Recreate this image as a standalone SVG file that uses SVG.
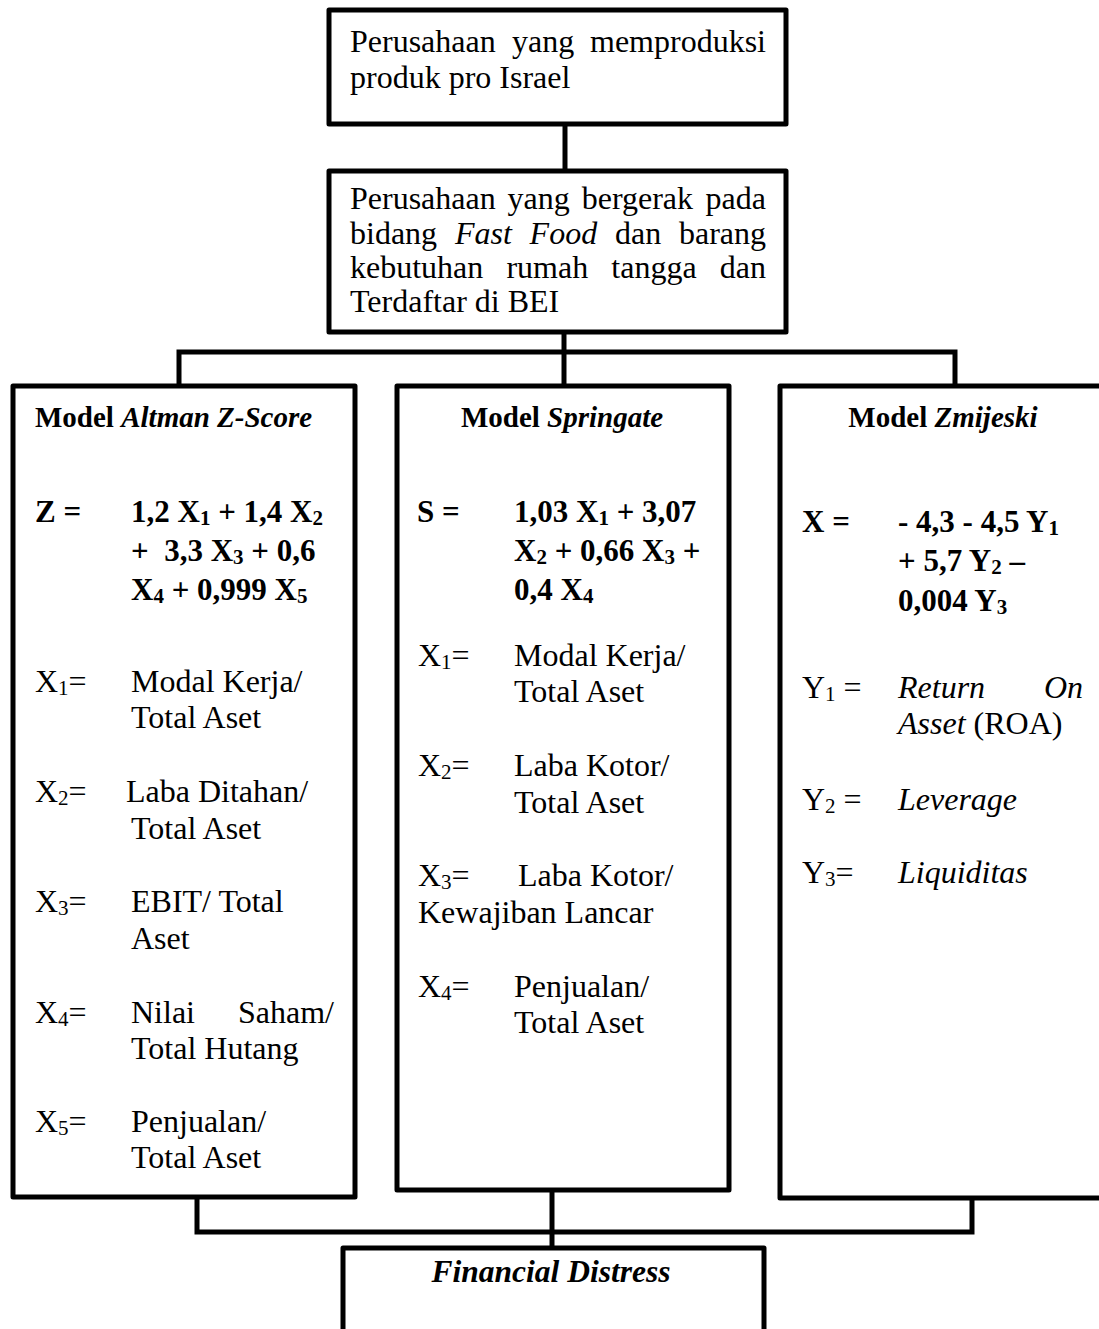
<svg xmlns="http://www.w3.org/2000/svg" width="1099" height="1329" viewBox="0 0 1099 1329">
<style>
.box{fill:#fff;stroke:#000;stroke-width:5;stroke-linejoin:round}
.ln{fill:none;stroke:#000;stroke-width:5;stroke-linecap:butt}
text{font-family:"Liberation Serif","Times New Roman",serif;font-size:32px;fill:#000}
.b{font-weight:bold;font-size:31px}
.h{font-weight:bold;font-size:29px}
.fd{font-weight:bold;font-style:italic;font-size:31.5px}
.i{font-style:italic}
.e{text-anchor:end}
.m{text-anchor:middle}
.s{font-size:21px}
</style>
<rect width="1099" height="1329" fill="#fff"/>
<g id="connectors">
<line class="ln" x1="565" y1="124" x2="565" y2="171"/>
<line class="ln" x1="564" y1="332" x2="564" y2="386"/>
<polyline class="ln" points="179,386 179,352 955,352 955,386"/>
<polyline class="ln" points="197,1197 197,1232 972,1232 972,1198"/>
<line class="ln" x1="552" y1="1188" x2="552" y2="1248"/>
</g>
<g id="node-perusahaan-pro-israel">
<rect class="box" x="329" y="10" width="457" height="114"/>
<text x="350" y="52">Perusahaan</text><text x="512" y="52">yang</text><text class="e" x="766" y="52">memproduksi</text>
<text x="350" y="88">produk pro Israel</text>
</g>
<g id="node-perusahaan-fast-food">
<rect class="box" x="329" y="171" width="457" height="161"/>
<text x="350" y="209">Perusahaan</text><text x="507.6" y="209">yang</text><text x="581.7" y="209">bergerak</text><text class="e" x="766" y="209">pada</text>
<text x="350" y="244">bidang</text><text class="i" x="454.9" y="244">Fast</text><text class="i" x="529.6" y="244">Food</text><text x="615" y="244">dan</text><text class="e" x="766" y="244">barang</text>
<text x="350" y="278">kebutuhan</text><text x="506.4" y="278">rumah</text><text x="611.3" y="278">tangga</text><text class="e" x="766" y="278">dan</text>
<text x="350" y="312">Terdaftar di BEI</text>
</g>
<g id="node-altman">
<rect class="box" x="13" y="386" width="342" height="811"/>
<text class="h" x="35" y="427">Model <tspan class="i">Altman Z-Score</tspan></text>
<text class="b" x="35" y="522">Z =</text>
<text class="b" x="131" y="522">1,2 X<tspan class="s" dy="3">1</tspan><tspan dy="-3"> + 1,4 X</tspan><tspan class="s" dy="3">2</tspan></text>
<text class="b" x="131" y="561" xml:space="preserve">+  3,3 X<tspan class="s" dy="3">3</tspan><tspan dy="-3"> + 0,6</tspan></text>
<text class="b" x="131" y="600">X<tspan class="s" dy="3">4</tspan><tspan dy="-3"> + 0,999 X</tspan><tspan class="s" dy="3">5</tspan></text>
<text x="35" y="692">X<tspan class="s" dy="3">1</tspan><tspan dy="-3">=</tspan></text>
<text x="131" y="692">Modal Kerja/</text>
<text x="131" y="728">Total Aset</text>
<text x="35" y="802">X<tspan class="s" dy="3">2</tspan><tspan dy="-3">=</tspan></text>
<text x="126" y="802">Laba Ditahan/</text>
<text x="131" y="839">Total Aset</text>
<text x="35" y="912">X<tspan class="s" dy="3">3</tspan><tspan dy="-3">=</tspan></text>
<text x="131" y="912">EBIT/ Total</text>
<text x="131" y="949">Aset</text>
<text x="35" y="1023">X<tspan class="s" dy="3">4</tspan><tspan dy="-3">=</tspan></text>
<text x="131" y="1023">Nilai</text><text class="e" x="334" y="1023">Saham/</text>
<text x="131" y="1059">Total Hutang</text>
<text x="35" y="1132">X<tspan class="s" dy="3">5</tspan><tspan dy="-3">=</tspan></text>
<text x="131" y="1132">Penjualan/</text>
<text x="131" y="1168">Total Aset</text>
</g>
<g id="node-springate">
<rect class="box" x="397" y="386" width="332" height="804"/>
<text class="h m" x="562" y="427">Model <tspan class="i">Springate</tspan></text>
<text class="b" x="417" y="522">S =</text>
<text class="b" x="514" y="522">1,03 X<tspan class="s" dy="3">1</tspan><tspan dy="-3"> + 3,07</tspan></text>
<text class="b" x="514" y="561">X<tspan class="s" dy="3">2</tspan><tspan dy="-3"> + 0,66 X</tspan><tspan class="s" dy="3">3</tspan><tspan dy="-3"> +</tspan></text>
<text class="b" x="514" y="600">0,4 X<tspan class="s" dy="3">4</tspan></text>
<text x="418" y="666">X<tspan class="s" dy="3">1</tspan><tspan dy="-3">=</tspan></text>
<text x="514" y="666">Modal Kerja/</text>
<text x="514" y="702">Total Aset</text>
<text x="418" y="776">X<tspan class="s" dy="3">2</tspan><tspan dy="-3">=</tspan></text>
<text x="514" y="776">Laba Kotor/</text>
<text x="514" y="813">Total Aset</text>
<text x="418" y="886">X<tspan class="s" dy="3">3</tspan><tspan dy="-3">=</tspan></text>
<text x="518" y="886">Laba Kotor/</text>
<text x="418" y="923">Kewajiban Lancar</text>
<text x="418" y="997">X<tspan class="s" dy="3">4</tspan><tspan dy="-3">=</tspan></text>
<text x="514" y="997">Penjualan/</text>
<text x="514" y="1033">Total Aset</text>
</g>
<g id="node-zmijeski">
<rect class="box" x="780" y="386" width="340" height="812"/>
<text class="h m" x="943" y="427">Model <tspan class="i">Zmijeski</tspan></text>
<text class="b" x="802" y="532">X =</text>
<text class="b" x="898" y="532">- 4,3 - 4,5 Y<tspan class="s" dy="3">1</tspan></text>
<text class="b" x="898" y="571">+ 5,7 Y<tspan class="s" dy="3">2</tspan><tspan dy="-3"> –</tspan></text>
<text class="b" x="898" y="611">0,004 Y<tspan class="s" dy="3">3</tspan></text>
<text x="802" y="698">Y<tspan class="s" dy="3">1</tspan><tspan dy="-3"> =</tspan></text>
<text class="i" x="898" y="698">Return</text><text class="i e" x="1083" y="698">On</text>
<text x="898" y="734"><tspan class="i">Asset</tspan> (ROA)</text>
<text x="802" y="810">Y<tspan class="s" dy="3">2</tspan><tspan dy="-3"> =</tspan></text>
<text class="i" x="898" y="810">Leverage</text>
<text x="802" y="883">Y<tspan class="s" dy="3">3</tspan><tspan dy="-3">=</tspan></text>
<text class="i" x="898" y="883">Liquiditas</text>
</g>
<g id="node-financial-distress">
<rect class="box" x="343" y="1248" width="421" height="110"/>
<text class="fd m" x="551" y="1282">Financial Distress</text>
</g>
</svg>
